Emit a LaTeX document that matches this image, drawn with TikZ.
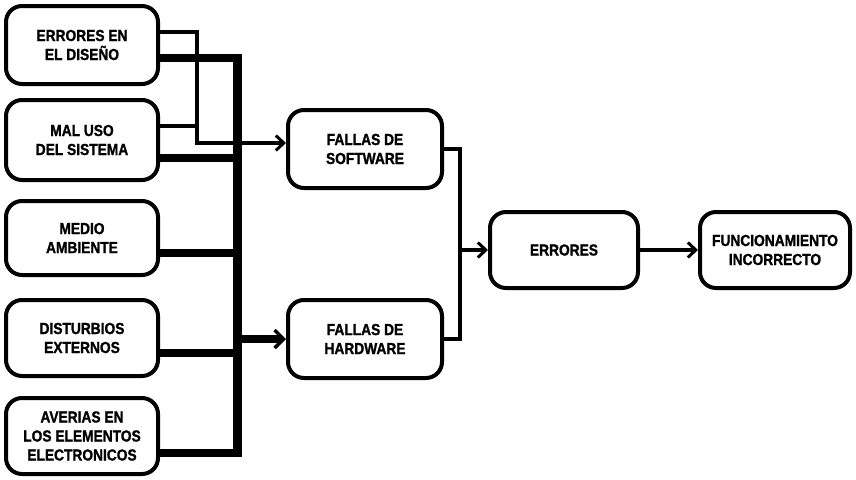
\documentclass[tikz,border=0pt]{standalone}
\usepackage{fontspec}
\setmainfont{Liberation Sans}
\newfontfamily\boxfont[FakeStretch=0.86,FakeBold=1.2]{Liberation Sans Bold}
\usetikzlibrary{arrows.meta,calc}
\begin{document}
\begin{tikzpicture}[x=1pt,y=-1pt,
  box/.style={draw,line width=4pt,rounded corners=16pt,align=center,
    font=\boxfont\fontsize{16}{19}\selectfont,inner sep=2pt},
  thinline/.style={line width=3.5pt},
  thickline/.style={line width=8pt},
  busline/.style={line width=9pt},
  tip/.style={-{Straight Barb[length=8pt,width=15pt,line width=3pt]}},
  bigtip/.style={-{Straight Barb[length=9pt,width=18pt,line width=3.5pt]}}]
\useasboundingbox (0,0) rectangle (856,479);
\node[box,minimum width=152pt,minimum height=78pt] (b1) at (82,45) {ERRORES EN\\EL DISEÑO};
\node[box,minimum width=152pt,minimum height=80pt] (b2) at (82,140) {MAL USO\\DEL SISTEMA};
\node[box,minimum width=152pt,minimum height=74pt] (b3) at (82,238) {MEDIO\\AMBIENTE};
\node[box,minimum width=152pt,minimum height=76pt] (b4) at (82,338) {DISTURBIOS\\EXTERNOS};
\node[box,minimum width=152pt,minimum height=76pt] (b5) at (82,436) {AVERIAS EN\\LOS ELEMENTOS\\ELECTRONICOS};
\node[box,minimum width=154pt,minimum height=78pt] (sw) at (365,149) {FALLAS DE\\SOFTWARE};
\node[box,minimum width=154pt,minimum height=78pt] (hw) at (365,339) {FALLAS DE\\HARDWARE};
\node[box,minimum width=148pt,minimum height=76pt] (er) at (564,250) {ERRORES};
\node[box,minimum width=150pt,minimum height=76pt] (fi) at (775,250) {FUNCIONAMIENTO\\INCORRECTO};
\coordinate (bus) at (237,0);
\coordinate (tj) at (197,0);
\coordinate (rj) at (460,0);
\coordinate (t1) at ([yshift=-13pt]b1.east);
\coordinate (t2) at ([yshift=-18pt]b2.east);
\coordinate (t3) at ([yshift=-15pt]b3.east);
\coordinate (t4) at ([yshift=-15pt]b4.east);
\coordinate (t5) at ([yshift=-17pt]b5.east);
\coordinate (s1) at ([yshift=13pt]b1.east);
\coordinate (s2) at ([yshift=14pt]b2.east);
\coordinate (swin) at ([yshift=6pt]sw.west);
% thin lines to software
\draw[thinline,tip] (s1) -| (tj |- swin) -- (swin);
\draw[thinline] (s2) -- (s2 -| tj);
% thick lines to bus
\foreach \t in {t1,t2,t3,t4,t5}{\draw[thickline] (\t) -- (\t -| bus);}
\draw[busline] ([yshift=4pt]bus |- t1) -- ([yshift=-4pt]bus |- t5);
\draw[thickline,bigtip] (bus |- hw.west) -- (hw.west);
% to errores
\draw[thinline] (sw.east) -| (rj |- hw.east) -- (hw.east);
\draw[thinline,tip] (rj |- er.west) -- (er.west);
\draw[thinline,tip] (er.east) -- (fi.west);
\end{tikzpicture}
\end{document}
